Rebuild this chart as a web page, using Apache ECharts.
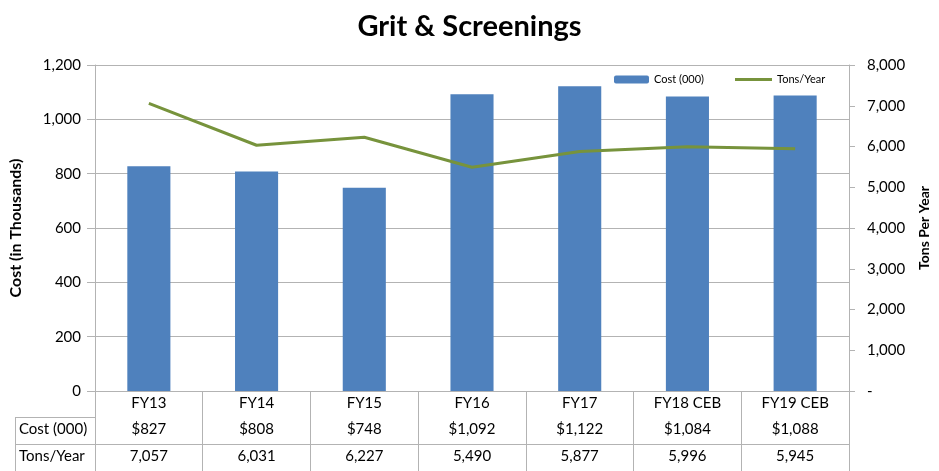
<!DOCTYPE html>
<html><head><meta charset="UTF-8">
<title>Grit & Screenings</title>
<script src="https://cdn.jsdelivr.net/npm/echarts@6/dist/echarts.min.js"></script>
<style>html,body{margin:0;padding:0;background:#fff;}</style>
</head>
<body>
<div id="g1" style="width:939px;height:471px;"></div>
<script type="text/javascript">
// data
var years = ['FY13', 'FY14', 'FY15', 'FY16', 'FY17', 'FY18 CEB', 'FY19 CEB'];
var cost = [827, 808, 748, 1092, 1122, 1084, 1088];
var tons = [7057, 6031, 6227, 5490, 5877, 5996, 5945];
var costTicks = [0, 1200, 200];
var tonsTicks = [0, 8000, 1000];

var font = 'Lato';
var gridColor = '#b3b3b3';

function fmt(v) {
    return v.toLocaleString('en-US');
}
var costLabels = cost.map(function (v) { return '$' + fmt(v); });
var tonsLabels = tons.map(function (v) { return fmt(v); });

// extra x axes act as rows of the data table under the chart
function tableRow(labels, offset) {
    return {
        type: 'category',
        gridIndex: 0,
        position: 'bottom',
        offset: offset,
        data: labels,
        axisLine: {show: true, lineStyle: {color: gridColor}},
        axisTick: {show: false},
        axisLabel: {fontFamily: font, fontSize: 15, color: '#000', margin: 5, interval: 0}
    };
}

var option = {
    animation: false,
    title: {
        text: 'Grit & Screenings',
        left: 'center',
        top: 7,
        textStyle: {fontFamily: font, fontSize: 29, fontWeight: 'bold', color: '#000'}
    },
    legend: [
        {
            left: 614,
            top: 74,
            padding: 0,
            itemWidth: 35,
            itemHeight: 8,
            textStyle: {fontFamily: font, fontSize: 11, color: '#000'},
            data: ['Cost (000)']
        },
        {
            left: 735,
            top: 74,
            padding: 0,
            itemWidth: 37,
            itemHeight: 3,
            textStyle: {fontFamily: font, fontSize: 11, color: '#000'},
            data: [{name: 'Tons/Year', icon: 'rect'}]
        }
    ],
    grid: {left: 95, right: 90, top: 65, bottom: 80},
    xAxis: [
        {
            type: 'category',
            data: years,
            axisLine: {lineStyle: {color: gridColor}},
            axisTick: {show: true, length: 80, lineStyle: {color: gridColor}},
            axisLabel: {fontFamily: font, fontSize: 15, color: '#000', margin: 5, interval: 0}
        },
        tableRow(costLabels, 26),
        tableRow(tonsLabels, 53)
    ],
    yAxis: [
        {
            type: 'value',
            min: costTicks[0], max: costTicks[1], interval: costTicks[2],
            name: 'Cost (in Thousands)',
            nameLocation: 'middle',
            nameGap: 71,
            nameTextStyle: {fontFamily: font, fontSize: 16, fontWeight: 'bold', color: '#000'},
            axisLine: {show: true, lineStyle: {color: gridColor}},
            axisTick: {show: true, length: 8, lineStyle: {color: gridColor}},
            axisLabel: {fontFamily: font, fontSize: 15, color: '#000', margin: 14, formatter: function (v) { return fmt(v); }},
            splitLine: {lineStyle: {color: gridColor}}
        },
        {
            type: 'value',
            min: tonsTicks[0], max: tonsTicks[1], interval: tonsTicks[2],
            name: 'Tons Per Year',
            nameLocation: 'middle',
            nameGap: 68,
            nameTextStyle: {fontFamily: font, fontSize: 14, fontWeight: 'bold', color: '#000'},
            axisLine: {show: true, lineStyle: {color: gridColor}},
            axisTick: {show: true, length: 6, lineStyle: {color: gridColor}},
            axisLabel: {fontFamily: font, fontSize: 15, color: '#000', margin: 18, formatter: function (v) { return v === 0 ? '-' : fmt(v); }},
            splitLine: {show: false}
        }
    ],
    series: [
        {
            name: 'Cost (000)',
            type: 'bar',
            data: cost,
            barWidth: '40%',
            itemStyle: {color: '#4F81BD'}
        },
        {
            name: 'Tons/Year',
            type: 'line',
            yAxisIndex: 1,
            data: tons,
            symbol: 'none',
            lineStyle: {color: '#77933C', width: 3},
            itemStyle: {color: '#77933C'}
        }
    ],
    graphic: [
        // header column of the data table
        {type: 'line', shape: {x1: 15, y1: 417.5, x2: 95, y2: 417.5}, style: {stroke: gridColor}},
        {type: 'line', shape: {x1: 15, y1: 444.5, x2: 95, y2: 444.5}, style: {stroke: gridColor}},
        {type: 'line', shape: {x1: 15.5, y1: 417, x2: 15.5, y2: 471}, style: {stroke: gridColor}},
        {type: 'text', left: 19, top: 422, style: {text: 'Cost (000)', font: '15px Lato', fill: '#000'}},
        {type: 'text', left: 19, top: 449, style: {text: 'Tons/Year', font: '15px Lato', fill: '#000'}}
    ]
};

var myChart = echarts.init(document.getElementById('g1'));
myChart.setOption(option);
</script>
</body></html>
